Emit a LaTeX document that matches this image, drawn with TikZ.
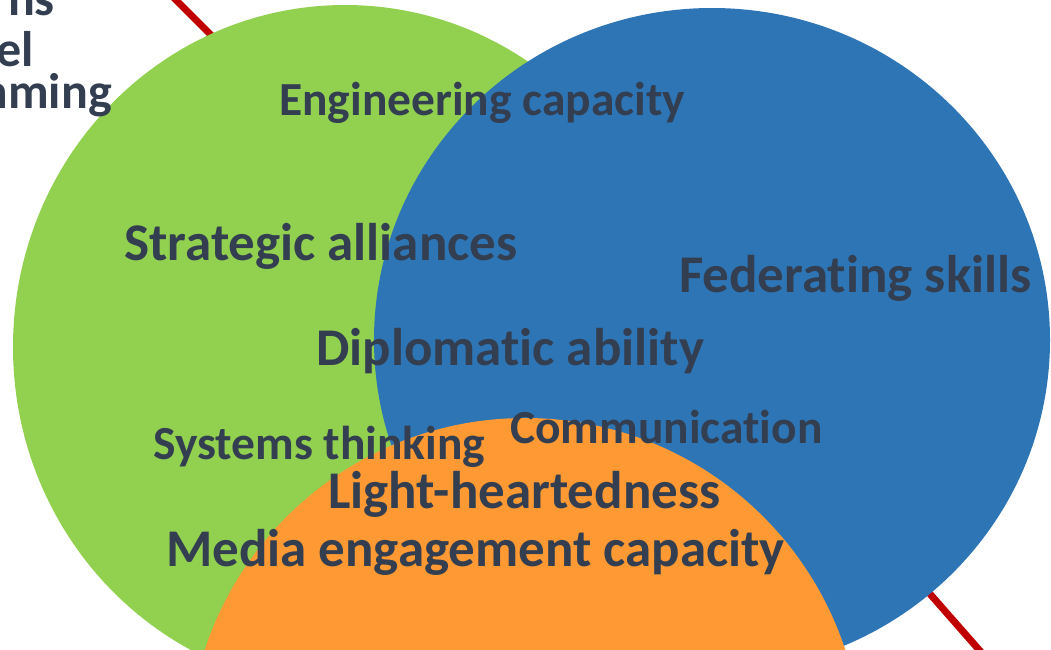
\documentclass[tikz,border=0pt]{standalone}
\usepackage{fontspec}
\setmainfont{Carlito}[RawFeature={-liga;-clig;-calt;-dlig;-rlig}]
\definecolor{vgreen}{HTML}{92D050}
\definecolor{vblue}{HTML}{2E75B6}
\definecolor{vorange}{HTML}{FF9933}
\definecolor{txt}{HTML}{333F50}
\definecolor{vred}{HTML}{C00000}
\begin{document}
\begin{tikzpicture}[x=1pt,y=-1pt,
  lbl/.style={inner sep=0pt, anchor=base west, text=txt, font=\bfseries\fontsize{53}{60}\selectfont},
  lblsmall/.style={lbl, font=\bfseries\fontsize{47.5}{55}\selectfont},
  lbledge/.style={inner sep=0pt, anchor=base east, text=txt, font=\bfseries\fontsize{50}{58}\selectfont},
  redline/.style={draw=vred, line width=7pt}]
\useasboundingbox (0,0) rectangle (1051,649);
\clip (0,0) rectangle (1051,649);
% red line behind the sets
\draw[redline] (170,-6) -- (300,124);
\draw[redline] (880,537) -- (988,660);
% sets
\fill[vgreen] (345,347) ellipse [x radius=332pt, y radius=342pt];
\fill[vblue] (712,340) ellipse [x radius=338pt, y radius=332pt];
\fill[vorange] (525,755) circle [radius=337pt];
% cut-off text at the top left
\node[lbledge] (t1) at (55,15) {ns};
\node[lbledge] (t2) at (34,66) {el};
\node[lbledge] (t3) at (112,108) {mming};
% labels
\node[lblsmall] (eng) at (279,115) {Engineering capacity};
\node[lbl] (str) at (124,260) {Strategic alliances};
\node[lbl] (fed) at (679,292) {Federating skills};
\node[lbl] (dip) at (316,365) {Diplomatic ability};
\node[lblsmall] (sys) at (153,459) {Systems thinking};
\node[lblsmall] (com) at (510,443) {Communication};
\node[lbl] (lig) at (328,508) {Light-heartedness};
\node[lbl] (med) at (166,566) {Media engagement capacity};
\end{tikzpicture}
\end{document}
